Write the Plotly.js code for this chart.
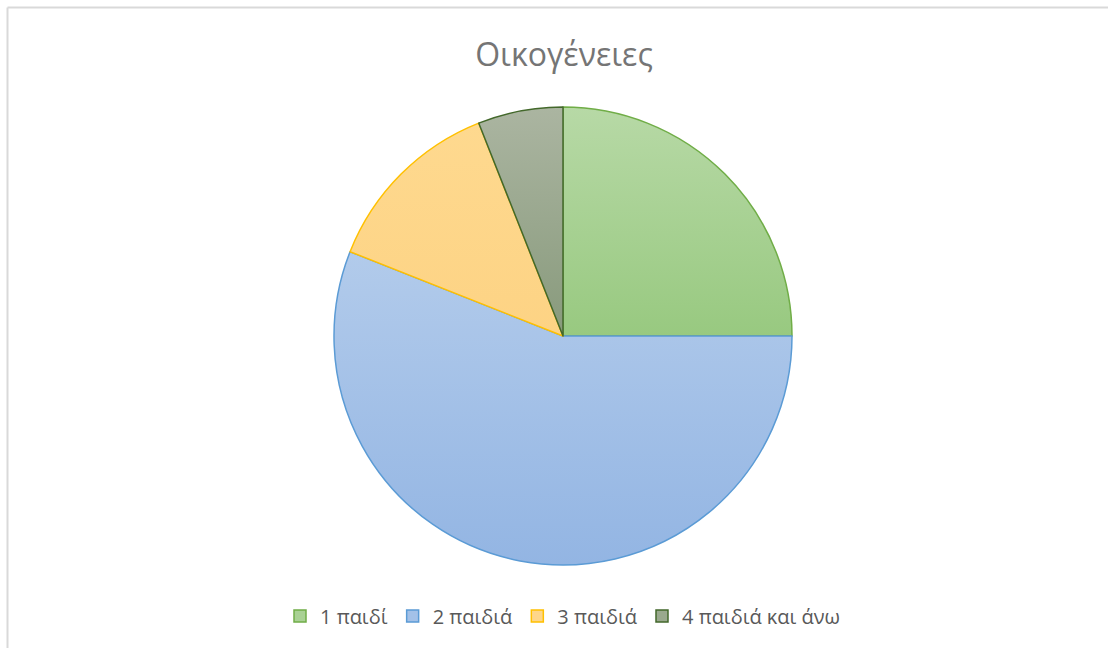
<!DOCTYPE html>
<html>
<head>
<meta charset="utf-8">
<script src="https://cdn.plot.ly/plotly-3.0.1.min.js"></script>
<style>html,body{margin:0;padding:0;background:#fff;}#chart{width:1108px;height:648px;}</style>
</head>
<body>
<div id="chart"></div>
<script>
const categories = ["1 παιδί", "2 παιδιά", "3 παιδιά", "4 παιδιά και άνω"];
const values = [25, 56, 13, 6];
const chartTitle = "Οικογένειες";

const fillColors = ["#a9d194", "#a3c1e8", "#fed68a", "#9aa98e"];
const lineColors = ["#70ad47", "#5b9bd5", "#ffc000", "#43682b"];
const gradTop = ["#b7d9a6", "#b2cbeb", "#fed98f", "#abb5a1"];
const gradBottom = ["#98c980", "#93b5e3", "#fdd384", "#889a7c"];

const data = [{
  type: "pie",
  labels: categories,
  values: values,
  sort: false,
  direction: "clockwise",
  rotation: 0,
  textinfo: "none",
  hoverinfo: "label+value",
  marker: { colors: fillColors, line: { color: lineColors, width: 1.5 } },
  domain: { x: [334/1108, 792/1108], y: [83/648, 541/648] }
}];

const layout = {
  width: 1108, height: 648,
  margin: { l: 0, r: 0, t: 0, b: 0 },
  paper_bgcolor: "#ffffff",
  font: { family: "Open Sans, Noto Sans, sans-serif", color: "#595959" },
  title: {
    text: chartTitle,
    font: { size: 32, color: "#757575", family: "Open Sans, Noto Sans, sans-serif" },
    x: 564/1108, xanchor: "center", xref: "paper",
    y: 1 - 55/648, yanchor: "middle", yref: "container"
  },
  showlegend: true,
  legend: {
    orientation: "h",
    x: 563/1108, xanchor: "center",
    y: 32/648, yanchor: "middle",
    font: { size: 20, color: "#595959" },
    itemwidth: 30,
    traceorder: "normal"
  },
  shapes: [
    { type: "line", xref: "paper", yref: "paper", x0: 7.5/1108, x1: 1, y0: 1 - 7.5/648, y1: 1 - 7.5/648, line: { color: "#d9d9d9", width: 2 } },
    { type: "line", xref: "paper", yref: "paper", x0: 7.5/1108, x1: 7.5/1108, y0: 0, y1: 1 - 7.5/648, line: { color: "#d9d9d9", width: 2 } }
  ]
};

Plotly.newPlot("chart", data, layout, { displayModeBar: false, staticPlot: true }).then(function (gd) {
  const svg = gd.querySelector("svg.main-svg");
  const ns = "http://www.w3.org/2000/svg";
  let defs = svg.querySelector("defs");
  if (!defs) { defs = document.createElementNS(ns, "defs"); svg.insertBefore(defs, svg.firstChild); }
  for (let i = 0; i < categories.length; i++) {
    const g = document.createElementNS(ns, "linearGradient");
    g.setAttribute("id", "sliceGrad" + i);
    g.setAttribute("x1", "0"); g.setAttribute("y1", "0");
    g.setAttribute("x2", "0"); g.setAttribute("y2", "1");
    const s1 = document.createElementNS(ns, "stop");
    s1.setAttribute("offset", "0"); s1.setAttribute("stop-color", gradTop[i]);
    const s2 = document.createElementNS(ns, "stop");
    s2.setAttribute("offset", "1"); s2.setAttribute("stop-color", gradBottom[i]);
    g.appendChild(s1); g.appendChild(s2); defs.appendChild(g);
  }
  const slices = gd.querySelectorAll(".slice path.surface");
  slices.forEach(function (p, i) { p.style.fill = "url(#sliceGrad" + i + ")"; });
});
</script>
</body>
</html>
